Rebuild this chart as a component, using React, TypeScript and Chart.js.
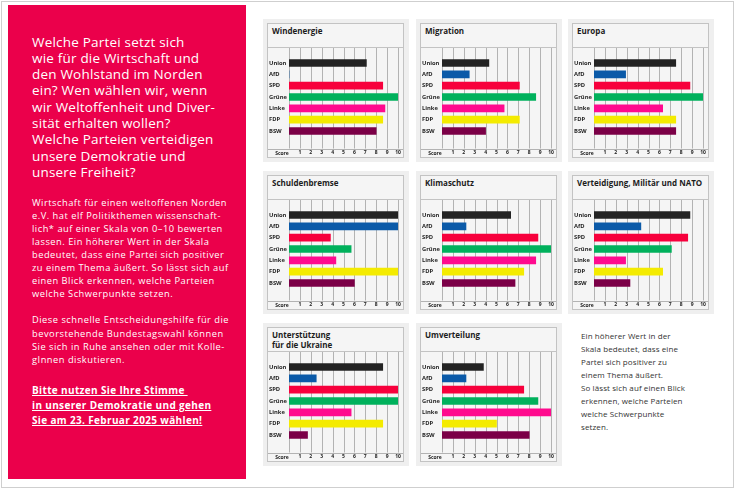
import React, { useEffect, useRef } from 'react';
import { Chart, registerables } from 'chart.js';

Chart.register(...registerables);

// ---------- data ----------
const parties = ['Union', 'AfD', 'SPD', 'Grüne', 'Linke', 'FDP', 'BSW'];
const partyColors = ['#232323', '#0b5aa8', '#f7003c', '#00b15c', '#ff0a8e', '#f4eb00', '#7b0047'];
const scoreTickLabels = ['', '1', '2', '3', '4', '5', '6', '7', '8', '9', '10'];
const scoreLabel = 'Score';

const windenergie = [7.1, 0, 8.6, 10, 8.8, 8.6, 8.0];
const migration = [4.3, 2.5, 7.1, 8.6, 5.7, 7.1, 4.0];
const europa = [7.5, 2.9, 8.8, 10, 6.3, 7.5, 7.5];
const schuldenbremse = [10, 10, 3.8, 5.7, 4.3, 10, 6.0];
const klimaschutz = [6.3, 2.2, 8.8, 10, 8.6, 7.5, 6.7];
const verteidigung = [8.8, 4.3, 8.6, 7.1, 2.9, 6.3, 3.3];
const ukraine = [8.6, 2.5, 10, 10, 5.7, 8.6, 1.7];
const umverteilung = [3.8, 2.2, 7.5, 8.8, 10, 5.0, 8.0];

const topicTitles = [
  'Windenergie',
  'Migration',
  'Europa',
  'Schuldenbremse',
  'Klimaschutz',
  'Verteidigung, Militär und NATO',
  'Unterstützung\nfür die Ukraine',
  'Umverteilung',
];
const topicValues = [windenergie, migration, europa, schuldenbremse, klimaschutz, verteidigung, ukraine, umverteilung];

const headingLines = [
  'Welche Partei setzt sich',
  'wie für die Wirtschaft und',
  'den Wohlstand im Norden',
  'ein? Wen wählen wir, wenn',
  'wir Weltoffenheit und Diver-',
  'sität erhalten wollen?',
  'Welche Parteien verteidigen',
  'unsere Demokratie und',
  'unsere Freiheit?',
];
const bodyLines1 = [
  'Wirtschaft für einen weltoffenen Norden',
  'e.V. hat elf Politikthemen wissenschaft-',
  'lich* auf einer Skala von 0–10 bewerten',
  'lassen. Ein höherer Wert in der Skala',
  'bedeutet, dass eine Partei sich positiver',
  'zu einem Thema äußert. So lässt sich auf',
  'einen Blick erkennen, welche Parteien',
  'welche Schwerpunkte setzen.',
];
const bodyLines2 = [
  'Diese schnelle Entscheidungshilfe für die',
  'bevorstehende Bundestagswahl können',
  'Sie sich in Ruhe ansehen oder mit Kolle-',
  'gInnen diskutieren.',
];
const callLines = [
  'Bitte nutzen Sie Ihre Stimme ',
  'in unserer Demokratie und gehen',
  'Sie am 23. Februar 2025 wählen!',
];
const noteLines = [
  'Ein höherer Wert in der',
  'Skala bedeutet, dass eine',
  'Partei sich positiver zu',
  'einem Thema äußert.',
  'So lässt sich auf einen Blick',
  'erkennen, welche Parteien',
  'welche Schwerpunkte',
  'setzen.',
];

// ---------- layout ----------
const FONT = '"Open Sans", Lato, sans-serif';
const colLefts = [267, 420, 572];
const rowTops = [23, 175, 327];
const BOX_W = 137;
const BOX_H = 135;
const TITLE_H = 24;
const CANVAS_W = BOX_W - 2;
const CANVAS_H = BOX_H - 2 - TITLE_H;
const SCORE_TOP = 100.5;
const GRID = '#b3b3b3';
const BORDER = '#c3c3c3';

const decorPlugin = {
  id: 'panelDecor',
  beforeDatasetsDraw(chart: any) {
    const { ctx, width, height } = chart;
    const x = chart.scales.x;
    ctx.save();
    ctx.strokeStyle = GRID;
    ctx.lineWidth = 1;
    for (let v = 0; v <= 10; v++) {
      const px = Math.round(x.getPixelForValue(v)) + 0.5;
      ctx.beginPath();
      ctx.moveTo(px, 0);
      ctx.lineTo(px, SCORE_TOP);
      ctx.stroke();
    }
    ctx.beginPath();
    ctx.moveTo(0, Math.round(SCORE_TOP) + 0.5);
    ctx.lineTo(width, Math.round(SCORE_TOP) + 0.5);
    ctx.stroke();
    ctx.fillStyle = '#222';
    ctx.font = `bold 5px ${FONT}`;
    ctx.textAlign = 'center';
    ctx.textBaseline = 'middle';
    ctx.fillText(scoreLabel, 14, (SCORE_TOP + height) / 2 + 0.5);
    ctx.restore();
  },
};

function Panel({ title, values, left, top }: { title: string; values: number[]; left: number; top: number }) {
  const ref = useRef<HTMLCanvasElement>(null);
  useEffect(() => {
    const chart = new Chart(ref.current as HTMLCanvasElement, {
      type: 'bar',
      data: {
        labels: parties,
        datasets: [
          {
            data: values,
            backgroundColor: partyColors,
            borderWidth: 0,
            barThickness: 7,
          },
        ],
      },
      options: {
        indexAxis: 'y',
        animation: false,
        responsive: true,
        maintainAspectRatio: false,
        layout: { padding: { left: 1, right: 5, top: 9.3, bottom: 0 } },
        plugins: { legend: { display: false }, tooltip: { enabled: false }, title: { display: false } },
        scales: {
          x: {
            type: 'linear',
            min: 0,
            max: 10,
            position: 'bottom',
            grid: { display: false, drawTicks: true, tickLength: 12.8 },
            border: { display: false },
            afterFit: (s: any) => {
              s.height = CANVAS_H - 88.7;
            },
            ticks: {
              stepSize: 1,
              autoSkip: false,
              maxRotation: 0,
              padding: 0,
              color: '#222',
              font: { family: FONT, size: 5, weight: 'bold' },
              callback: (_v: any, i: number) => scoreTickLabels[i],
            },
          },
          y: {
            grid: { display: false, drawTicks: false },
            border: { display: false },
            afterFit: (s: any) => {
              s.width = 20;
            },
            ticks: {
              autoSkip: false,
              crossAlign: 'far',
              padding: 0,
              color: '#1e1e1e',
              font: { family: FONT, size: 5.8, weight: 'bold' },
            },
          },
        },
      } as any,
      plugins: [decorPlugin],
    });
    return () => chart.destroy();
  }, [values]);

  return (
    <>
      <div
        style={{
          position: 'absolute',
          left: left - 4,
          top: top - 4,
          width: BOX_W + 9,
          height: BOX_H + 8,
          background: '#efefef',
        }}
      />
      <div
        style={{
          position: 'absolute',
          left,
          top,
          width: BOX_W,
          height: BOX_H,
          boxSizing: 'border-box',
          border: `1px solid ${BORDER}`,
          background: '#f5f5f5',
        }}
      >
        <div
          style={{
            height: TITLE_H,
            boxSizing: 'border-box',
            borderBottom: `1px solid ${BORDER}`,
            padding: '2px 0 0 4px',
            fontFamily: FONT,
            fontWeight: 'bold',
            fontSize: 8,
            lineHeight: '10px',
            color: '#1c1c1c',
            whiteSpace: 'pre-line',
          }}
        >
          {title}
        </div>
        <div style={{ position: 'relative', width: CANVAS_W, height: CANVAS_H }}>
          <canvas ref={ref} />
        </div>
      </div>
    </>
  );
}

function Lines({ lines, style }: { lines: string[]; style: React.CSSProperties }) {
  return (
    <div style={{ position: 'absolute', whiteSpace: 'pre', ...style }}>
      {lines.map((l, i) => (
        <div key={i}>{l}</div>
      ))}
    </div>
  );
}

export default function App() {
  return (
    <div
      style={{
        position: 'absolute',
        left: 0,
        top: 0,
        width: 735,
        height: 489,
        background: '#ffffff',
        overflow: 'hidden',
        fontFamily: FONT,
      }}
    >
      <div
        style={{
          position: 'absolute',
          left: 1,
          top: 1,
          width: 733,
          height: 487,
          boxSizing: 'border-box',
          border: '1.5px solid #cfcfcf',
        }}
      />
      <div style={{ position: 'absolute', left: 8, top: 5, width: 238, height: 474, background: '#eb004b' }} />
      <Lines
        lines={headingLines}
        style={{
          left: 32,
          top: 33.5,
          color: '#fff',
          fontSize: 13.5,
          lineHeight: '16.3px',
          fontWeight: 500,
          letterSpacing: 0.2,
        }}
      />
      <Lines
        lines={bodyLines1}
        style={{ left: 32, top: 195.7, color: '#fff', fontSize: 9.3, lineHeight: '13.1px', letterSpacing: 0.5 }}
      />
      <Lines
        lines={bodyLines2}
        style={{ left: 32, top: 313.4, color: '#fff', fontSize: 9.3, lineHeight: '13.3px', letterSpacing: 0.5 }}
      />
      <Lines
        lines={callLines}
        style={{
          left: 32,
          top: 382.5,
          color: '#fff',
          fontSize: 10,
          lineHeight: '15px',
          fontWeight: 'bold',
          letterSpacing: 0.35,
          textDecoration: 'underline',
        }}
      />
      {topicTitles.map((t, i) => (
        <Panel key={i} title={t} values={topicValues[i]} left={colLefts[i % 3]} top={rowTops[Math.floor(i / 3)]} />
      ))}
      <Lines
        lines={noteLines}
        style={{ left: 581, top: 328.5, color: '#333', fontSize: 8, lineHeight: '13.1px', letterSpacing: 0.1 }}
      />
    </div>
  );
}
